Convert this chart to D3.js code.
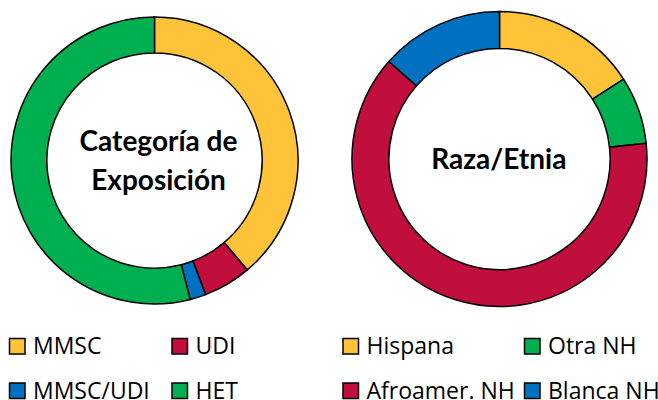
<!DOCTYPE html>
<html>
<head>
<meta charset="utf-8">
<script src="https://cdn.jsdelivr.net/npm/d3@7"></script>
<style>
  body { margin: 0; background: #fff; }
  svg { display: block; }
</style>
</head>
<body>
<svg id="chart" width="658" height="400"></svg>
<script>
// Exposure category donut (percent)
const exposureLabels = ["MMSC", "UDI", "MMSC/UDI", "HET"];
const exposureValues = [38.8, 5.4, 1.8, 54.0];

// Race / ethnicity donut (percent)
const raceLabels = ["Hispana", "Otra NH", "Afroamer. NH", "Blanca NH"];
const raceValues = [15.9, 7.4, 63.2, 13.5];

const colors = {
  "MMSC": "#ffc33a", "UDI": "#c10f3d", "MMSC/UDI": "#0070c0", "HET": "#00b050",
  "Hispana": "#ffc33a", "Otra NH": "#00b050", "Afroamer. NH": "#c10f3d", "Blanca NH": "#0070c0"
};

const svg = d3.select("#chart");

const pie = d3.pie().sort(null).value((d) => d.value);

function drawDonut(labels, values, cx, cy, r, title, dx, y0) {
  const data = labels.map((l, i) => ({ label: l, value: values[i] }));
  const arc = d3.arc().innerRadius(r * 0.75).outerRadius(r);
  const g = svg.append("g").attr("transform", `translate(${cx},${cy})`);
  g.selectAll("path")
    .data(pie(data))
    .join("path")
    .attr("d", arc)
    .attr("fill", (d) => colors[d.data.label])
    .attr("stroke", "#000")
    .attr("stroke-width", 1.5);

  // centre label
  const t = g.append("text")
    .attr("text-anchor", "middle")
    .attr("font-family", "Lato, 'Open Sans', sans-serif")
    .attr("font-weight", "bold")
    .attr("font-size", 28)
    .attr("fill", "#000");
  title.forEach((line, i) => {
    t.append("tspan").attr("x", dx).attr("y", y0 + i * 39.3).text(line);
  });
}

drawDonut(exposureLabels, exposureValues, 154.5, 160.5, 143.5, ["Categoría de", "Exposición"], 4, -9.8);
drawDonut(raceLabels, raceValues, 499.5, 159, 147.5, ["Raza/Etnia"], -0.7, 10.3);

// legends (2x2 grid each)
function drawLegend(labels, x0, colX, rowY) {
  labels.forEach((l, i) => {
    const x = x0 + (i % 2) * colX;
    const y = rowY[Math.floor(i / 2)];
    const g = svg.append("g").attr("transform", `translate(${x},${y})`);
    g.append("rect")
      .attr("x", 0).attr("y", -15.5)
      .attr("width", 15.5).attr("height", 15.5)
      .attr("fill", colors[l])
      .attr("stroke", "#000")
      .attr("stroke-width", 1.5);
    g.append("text")
      .attr("x", 23.5)
      .attr("y", 0)
      .attr("font-family", "'Open Sans', sans-serif")
      .attr("font-size", 23)
      .attr("fill", "#000")
      .text(l);
  });
}

drawLegend(exposureLabels, 9.5, 162.5, [354, 398.5]);
drawLegend(raceLabels, 343, 181.5, [354, 398.5]);
</script>
</body>
</html>
